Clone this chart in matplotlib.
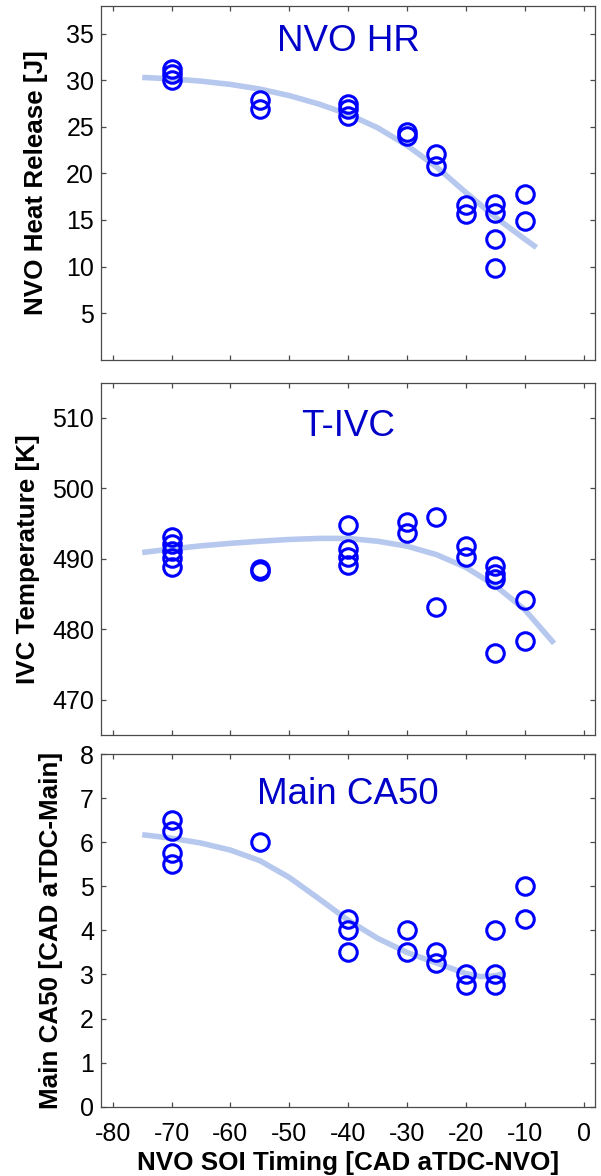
import matplotlib
matplotlib.use("Agg")
import matplotlib.pyplot as plt

plt.rcParams['font.family'] = ['Liberation Sans', 'DejaVu Sans']

# ---------------- data ----------------
# Panel 1: NVO heat release [J]
hr_x = [-70, -70, -70, -55, -55, -40, -40, -40, -30, -30, -25, -25,
        -20, -20, -15, -15, -15, -15, -10, -10]
hr_y = [31.2, 30.7, 30.0, 27.9, 26.9, 27.4, 26.9, 26.2, 24.4, 24.05, 22.1, 20.8,
        16.6, 15.6, 16.7, 15.7, 13.0, 9.8, 17.8, 14.9]
hr_fit_x = [-75, -70, -65, -60, -55, -50, -45, -40, -35, -30, -25, -20, -15, -10, -8]
hr_fit_y = [30.3, 30.15, 29.9, 29.55, 29.05, 28.35, 27.45, 26.35, 24.9, 23.0,
            20.7, 17.95, 15.3, 12.95, 12.05]

# Panel 2: IVC temperature [K]
tivc_x = [-70, -70, -70, -70, -70, -55, -55, -40, -40, -40, -40, -30, -30,
          -25, -25, -20, -20, -15, -15, -15, -15, -10, -10]
tivc_y = [493.1, 492.1, 491.1, 490.1, 488.9, 488.6, 488.3, 494.8, 491.4, 490.2, 489.1,
          495.3, 493.7, 495.9, 483.1, 491.8, 490.2, 489.0, 487.9, 487.2, 476.7,
          484.1, 478.3]
tivc_fit_x = [-75, -70, -65, -60, -55, -50, -45, -40, -35, -30, -25, -20, -15, -10, -5]
tivc_fit_y = [490.9, 491.4, 491.85, 492.2, 492.5, 492.75, 492.9, 492.9, 492.5, 491.8,
              490.6, 488.8, 486.2, 482.8, 478.0]

# Panel 3: Main CA50 [CAD aTDC-Main]
ca50_x = [-70, -70, -70, -70, -55, -40, -40, -40, -30, -30, -25, -25,
          -20, -20, -15, -15, -15, -10, -10]
ca50_y = [6.5, 6.25, 5.75, 5.5, 6.0, 4.25, 4.0, 3.5, 4.0, 3.5, 3.5, 3.25,
          3.0, 2.75, 4.0, 3.0, 2.75, 5.0, 4.25]
ca50_fit_x = [-75, -70, -65, -60, -55, -50, -45, -40, -35, -30, -25, -20, -17.5, -15, -13.5]
ca50_fit_y = [6.17, 6.09, 5.98, 5.82, 5.58, 5.2, 4.72, 4.23, 3.82, 3.5, 3.26, 3.02,
              2.95, 2.97, 3.02]

titles = ["NVO HR", "T-IVC", "Main CA50"]
ylabels = ["NVO Heat Release [J]", "IVC Temperature [K]", "Main CA50 [CAD aTDC-Main]"]
xlabel = "NVO SOI Timing [CAD aTDC-NVO]"
x_ticks = [-80, -70, -60, -50, -40, -30, -20, -10, 0]
y_ticks = [[5, 10, 15, 20, 25, 30, 35], [470, 480, 490, 500, 510], [0, 1, 2, 3, 4, 5, 6, 7, 8]]
y_lims = [(0, 38), (465, 515), (0, 8)]

# ---------------- layout ----------------
W, H = 601, 1176
fig = plt.figure(figsize=(W / 100, H / 100), dpi=100)
left = 101 / W
width = 494.3 / W
boxes = [(5.7, 359.7), (382.7, 735.0), (754.0, 1106.7)]
title_y = [0.873, 0.850, 0.858]
ylabel_x = [-0.107, -0.123, -0.076]

series = [(hr_x, hr_y, hr_fit_x, hr_fit_y),
          (tivc_x, tivc_y, tivc_fit_x, tivc_fit_y),
          (ca50_x, ca50_y, ca50_fit_x, ca50_fit_y)]

marker_color = '#0000ff'
fit_color = '#b7c8ef'
title_color = '#0000c8'
spine_color = '#4a4a4a'

for i, (top, bot) in enumerate(boxes):
    ax = fig.add_axes([left, 1 - bot / H, width, (bot - top) / H])
    xs, ys, fx, fy = series[i]
    ax.plot(fx, fy, color=fit_color, lw=4.0, solid_capstyle='butt',
            solid_joinstyle='round', zorder=2)
    ax.plot(xs, ys, linestyle='none', marker='o', markersize=12.6,
            markerfacecolor='none', markeredgecolor=marker_color,
            markeredgewidth=2.2, zorder=3)
    ax.set_xlim(-82, 2)
    ax.set_ylim(*y_lims[i])
    ax.set_xticks(x_ticks)
    ax.set_yticks(y_ticks[i])
    ax.tick_params(direction='in', length=3.6, width=0.9, color=spine_color,
                   top=True, right=True, labelsize=18, pad=5)
    ax.tick_params(axis='x', pad=10.8)
    if i < 2:
        ax.tick_params(axis='x', labelbottom=False)
    else:
        ax.set_xticklabels([str(v) for v in x_ticks])
        ax.set_xlabel(xlabel, fontsize=18.7, fontweight='bold', labelpad=4)
    ax.set_yticklabels([str(v) for v in y_ticks[i]])
    for s in ax.spines.values():
        s.set_color(spine_color)
        s.set_linewidth(0.9)
    ax.set_ylabel(ylabels[i], fontsize=18.7, fontweight='bold')
    ax.yaxis.set_label_coords(ylabel_x[i], 0.5)
    ax.text(0.5, title_y[i], titles[i], transform=ax.transAxes, ha='center',
            va='baseline', fontsize=26.5, color=title_color)

fig.savefig('out.png', dpi=100)
